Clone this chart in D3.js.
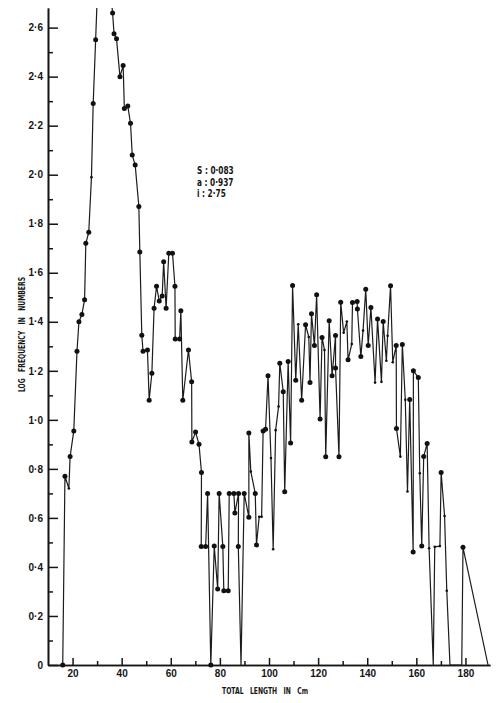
<!DOCTYPE html>
<html>
<head>
<meta charset="utf-8">
<script src="https://cdn.jsdelivr.net/npm/d3@7/dist/d3.min.js"></script>
<style>
  body { margin: 0; background: #fff; }
  text { fill: #151515; }
</style>
</head>
<body>
<div id="chart"></div>
<script>
// total length (cm) of each plotted point
var lengths = [16, 16.9, 18.5, 19.0, 20.5, 21.8, 22.6, 23.8, 24.9, 25.4,
  26.6, 27.7, 28.4, 29.4, 30.5, 34, 36.3, 36.9, 37.9, 39.3,
  40.6, 41.1, 42.5, 43.6, 44.3, 45.5, 47.0, 47.4, 48.2, 48.7,
  50.5, 51.2, 52.3, 53.2, 54.2, 55.3, 56.5, 57.1, 58.1, 59.2,
  60.7, 61.7, 61.8, 63.6, 64.1, 64.9, 67.2, 68.5, 68.6, 70.1,
  71.5, 72.5, 72.4, 74.2, 75.0, 76.3, 77.7, 79.1, 79.7, 81.2,
  81.6, 83.4, 83.8, 85.7, 86.1, 87.6, 87.5, 88.6, 89.9, 91.8,
  91.8, 92.6, 94.4, 94.9, 96.0, 97.0, 97.6, 98.6, 99.6, 100.8,
  101.7, 102.7, 103.9, 104.4, 105.8, 106.4, 107.8, 108.8, 109.6, 110.9,
  111.9, 113.3, 114.9, 116.2, 116.7, 117.3, 118.5, 119.4, 120.8, 121.6,
  122.6, 123.1, 124.5, 125.7, 127.1, 127.1, 128.5, 129.2, 130.4, 131.7,
  132.2, 133.7, 134.0, 135.9, 136.0, 137.4, 138.3, 139.4, 140.4, 141.5,
  143.2, 144.2, 145.8, 146.5, 147.8, 148.3, 149.5, 150.4, 151.8, 151.9,
  153.5, 154.3, 155.5, 156.4, 157.3, 158.7, 158.8, 160.8, 161.4, 162.2,
  163.0, 164.4, 165.2, 166.9, 167.5, 169.6, 170.1, 171.5, 172.4, 173.7,
  178.5, 179.0, 189.2]

// log frequency for each point (peak at 30-34 runs off the top of the plot)
var logFreq = [0, 0.77, 0.72, 0.85, 0.955, 1.28, 1.40, 1.43, 1.49, 1.72,
  1.765, 1.99, 2.29, 2.55, 2.85, 2.9, 2.66, 2.575, 2.555, 2.40,
  2.445, 2.27, 2.28, 2.21, 2.08, 2.04, 1.87, 1.685, 1.345, 1.28,
  1.285, 1.08, 1.19, 1.455, 1.545, 1.485, 1.505, 1.645, 1.455, 1.68,
  1.68, 1.545, 1.33, 1.33, 1.445, 1.08, 1.285, 1.155, 0.91, 0.95,
  0.90, 0.785, 0.483, 0.483, 0.70, 0, 0.485, 0.31, 0.70, 0.483,
  0.303, 0.303, 0.70, 0.70, 0.62, 0.70, 0.483, 0, 0.70, 0.603,
  0.946, 0.789, 0.70, 0.49, 0.605, 0.605, 0.955, 0.962, 1.18, 0.844,
  0.472, 0.958, 1.054, 1.231, 1.115, 0.707, 1.238, 0.906, 1.548, 1.162,
  1.39, 1.08, 1.388, 1.338, 1.152, 1.433, 1.303, 1.51, 1.003, 1.336,
  1.285, 0.849, 1.404, 1.18, 1.344, 1.211, 0.849, 1.48, 1.355, 1.401,
  1.245, 1.309, 1.479, 1.483, 1.452, 1.258, 1.364, 1.533, 1.303, 1.458,
  1.152, 1.411, 1.155, 1.401, 1.241, 1.343, 1.547, 1.235, 1.303, 0.965,
  0.85, 1.307, 1.082, 0.708, 1.083, 0.461, 1.2, 1.173, 0.782, 0.485,
  0.85, 0.904, 0.476, 0, 0.482, 0.485, 0.785, 0.608, 0.303, 0,
  0, 0.48, 0]

// points that only get the small dot
var smallDots = [18.5, 27.7, 92.6, 96.0, 97.0, 100.8, 101.7, 102.7, 103.9, 111.9,
  116.2, 122.6, 130.4, 131.7, 133.7, 138.3, 143.2, 145.8, 147.8, 148.3,
  150.4, 153.5, 155.5, 156.4, 161.4, 165.2, 167.5, 169.6, 171.5, 172.4]
var noDots = [30.5, 34, 88.6, 166.9, 173.7, 178.5, 189.2]

// ticks
var yMajor = [0, 0.2, 0.4, 0.6, 0.8, 1.0, 1.2, 1.4, 1.6, 1.8, 2.0, 2.2, 2.4, 2.6]
var yMinor = [0.1, 0.3, 0.5, 0.7, 0.9, 1.1, 1.3, 1.5, 1.7, 1.9, 2.1, 2.3, 2.5]
var xMajor = [20, 40, 60, 80, 100, 120, 140, 160, 180]
var xMinor = [30, 50, 70, 90, 110, 130, 150, 170]

var notes = ["S : 0·083", "a : 0·937", "i : 2·75"]
var xTitle = "TOTAL   LENGTH   IN   Cm"
var yTitle = "LOG   FREQUENCY   IN   NUMBERS"

var width = 500, height = 703;

var svg = d3.select("#chart")
  .append("svg")
    .attr("width", width)
    .attr("height", height)

var x = d3.scaleLinear().domain([10, 190]).range([48, 490])
var y = d3.scaleLinear().domain([0, 2.68]).range([665, 8])

var fmt = function(d) { return d == 0 ? "0" : d3.format(".1f")(d).replace(".", "·") }

// X axis: long ticks with labels, short ones between, both pointing up into the plot
svg.append("g")
  .attr("transform", "translate(0,665)")
  .call(d3.axisBottom(x).tickValues(xMinor).tickSizeInner(-4).tickSizeOuter(0).tickFormat(""))
svg.append("g")
  .attr("class", "xaxis")
  .attr("transform", "translate(0,665)")
  .call(d3.axisBottom(x).tickValues(xMajor).tickSizeInner(-7).tickSizeOuter(0).tickPadding(5))

// Y axis, ticks pointing right
svg.append("g")
  .attr("transform", "translate(48,0)")
  .call(d3.axisLeft(y).tickValues(yMinor).tickSizeInner(-5).tickSizeOuter(0).tickFormat(""))
svg.append("g")
  .attr("class", "yaxis")
  .attr("transform", "translate(48,0)")
  .call(d3.axisLeft(y).tickValues(yMajor).tickSizeInner(-10).tickSizeOuter(0).tickPadding(5).tickFormat(fmt))

svg.selectAll(".domain").attr("stroke", "#151515").attr("stroke-width", 1.6)
svg.selectAll(".tick line").attr("stroke", "#151515").attr("stroke-width", 1.5)
svg.selectAll(".xaxis text, .yaxis text")
  .style("font-family", "'Liberation Sans', Arial, sans-serif")
  .style("font-size", "10px")
  .style("font-weight", "bold")
  .attr("fill", "#151515")

// axis titles, narrow heavy capitals with wide gaps between words
svg.append("text")
  .attr("xml:space", "preserve")
  .attr("x", 222).attr("y", 694)
  .attr("textLength", 86).attr("lengthAdjust", "spacingAndGlyphs")
  .style("white-space", "pre")
  .style("font-family", "'DejaVu Sans Condensed', 'DejaVu Sans', sans-serif")
  .style("font-size", "9.5px").style("font-weight", "bold")
  .text(xTitle)

svg.append("text")
  .attr("xml:space", "preserve")
  .attr("transform", "translate(25,392) rotate(-90)")
  .attr("textLength", 115).attr("lengthAdjust", "spacingAndGlyphs")
  .style("white-space", "pre")
  .style("font-family", "'DejaVu Sans Condensed', 'DejaVu Sans', sans-serif")
  .style("font-size", "9.5px").style("font-weight", "bold")
  .text(yTitle)

// fitted parameters, squeezed a bit like the typewriter labels
svg.selectAll(".note")
  .data(notes)
  .enter().append("text")
    .attr("class", "note")
    .attr("x", 197)
    .attr("y", function(d, i) { return 174 + i * 11.7 })
    .style("font-family", "'DejaVu Sans Condensed', 'DejaVu Sans', sans-serif")
    .style("font-size", "10px").style("font-weight", "bold")
    .text(function(d) { return d })
    .each(function() {
      var w = this.getComputedTextLength()
      d3.select(this).attr("textLength", w * 0.82).attr("lengthAdjust", "spacingAndGlyphs")
    })

// clip so the peak runs off the top like on the paper
svg.append("clipPath").attr("id", "plot")
  .append("rect").attr("x", 48).attr("y", 8).attr("width", 445).attr("height", 662)

var pts = lengths.map(function(l, i) { return [l, logFreq[i]] })

var line = d3.line()
  .x(function(d) { return x(d[0]) })
  .y(function(d) { return y(d[1]) })

var g = svg.append("g").attr("clip-path", "url(#plot)")

g.append("path")
  .datum(pts)
  .attr("fill", "none")
  .attr("stroke", "#1c1c1c")
  .attr("stroke-width", 1.2)
  .attr("stroke-linejoin", "round")
  .attr("d", line)

g.selectAll("circle")
  .data(pts.filter(function(d) { return noDots.indexOf(d[0]) < 0 }))
  .enter().append("circle")
    .attr("cx", function(d) { return x(d[0]) })
    .attr("cy", function(d) { return y(d[1]) })
    .attr("r", function(d) { return smallDots.indexOf(d[0]) >= 0 ? 1.3 : 2.5 })
    .attr("fill", "#111")
</script>
</body>
</html>
